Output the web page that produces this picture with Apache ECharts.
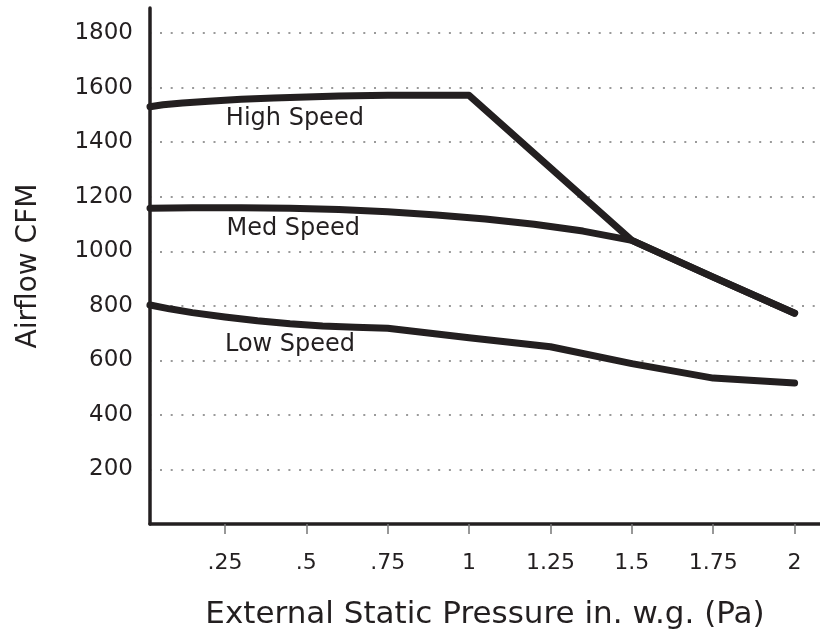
<!DOCTYPE html>
<html><head><meta charset="utf-8">
<script src="https://cdn.jsdelivr.net/npm/echarts@6/dist/echarts.min.js"></script>
<style>html,body{margin:0;padding:0;background:#fff}#c{width:820px;height:637px}</style>
</head><body><div id="c"></div>
<script>
var xTicks = [0.25, 0.5, 0.75, 1, 1.25, 1.5, 1.75, 2];
var xTickLabels = ['.25', '.5', '.75', '1', '1.25', '1.5', '1.75', '2'];
var yTicks = [200, 400, 600, 800, 1000, 1200, 1400, 1600, 1800];

var highSpeed = [[0.02,1530],[0.06,1537],[0.12,1544],[0.2,1550],[0.3,1557],[0.4,1562],[0.5,1566],[0.6,1569],[0.75,1572],[1.0,1572],[1.5,1040],[1.75,905],[2.0,773]];
var medSpeed  = [[0.02,1158],[0.15,1160],[0.3,1160],[0.45,1158],[0.6,1153],[0.75,1145],[0.9,1133],[1.05,1118],[1.2,1099],[1.35,1074],[1.5,1040],[1.75,905],[2.0,773]];
var lowSpeed  = [[0.02,803],[0.08,789],[0.15,775],[0.25,759],[0.35,745],[0.45,734],[0.55,726],[0.65,721],[0.75,718],[1.0,683],[1.25,650],[1.5,588],[1.75,535],[2.0,517]];

var seriesNames = ['High Speed', 'Med Speed', 'Low Speed'];
var labelCoords = [[0.465,1485],[0.46,1082],[0.45,656]];

var ink = '#231f20';
var font = 'DejaVu Sans';
var chart = echarts.init(document.getElementById('c'), null, {renderer:'canvas'});
function lineSeries(name, data, lc){
  return {
    type:'line', name:name, data:data, showSymbol:false, symbol:'none',
    lineStyle:{color:ink, width:7, cap:'round', join:'round'},
    z:3, animation:false,
    markPoint:{
      symbol:'circle', symbolSize:0, silent:true,
      label:{show:true, position:'inside', formatter:name, color:ink, fontFamily:font, fontSize:24},
      data:[{coord:lc}]
    }
  };
}
chart.setOption({
  animation:false,
  grid:{left:150, right:0, top:8, bottom:113, containLabel:false},
  xAxis:{
    type:'value', min:0.02, max:2.078,
    name:'External Static Pressure in. w.g. (Pa)', nameLocation:'middle', nameGap:75,
    nameTextStyle:{color:ink, fontFamily:font, fontSize:31},
    axisLine:{show:true, onZero:false, lineStyle:{color:ink, width:3.5}},
    axisTick:{show:true, length:10, lineStyle:{color:'#777', width:1.5}, customValues:xTicks},
    axisLabel:{color:ink, fontFamily:font, fontSize:22, margin:28, customValues:xTicks,
      formatter:function(v){ var i = xTicks.indexOf(v); return i>=0 ? xTickLabels[i] : ''; }},
    splitLine:{show:false}
  },
  yAxis:{
    type:'value', min:0, max:1892,
    name:'Airflow CFM', nameLocation:'middle', nameGap:107, nameRotate:90,
    nameTextStyle:{color:ink, fontFamily:font, fontSize:28},
    axisLine:{show:true, lineStyle:{color:ink, width:3.5}},
    axisTick:{show:false, customValues:yTicks},
    axisLabel:{color:ink, fontFamily:font, fontSize:23, margin:17, customValues:yTicks,
      formatter:function(v){ return String(v); }},
    splitLine:{show:true, lineStyle:{color:'#9a9a9a', width:2, type:[2,8.7], dashOffset:-10}}
  },
  series:[
    lineSeries(seriesNames[0], highSpeed, labelCoords[0]),
    lineSeries(seriesNames[1], medSpeed, labelCoords[1]),
    lineSeries(seriesNames[2], lowSpeed, labelCoords[2])
  ]
});
</script></body></html>
